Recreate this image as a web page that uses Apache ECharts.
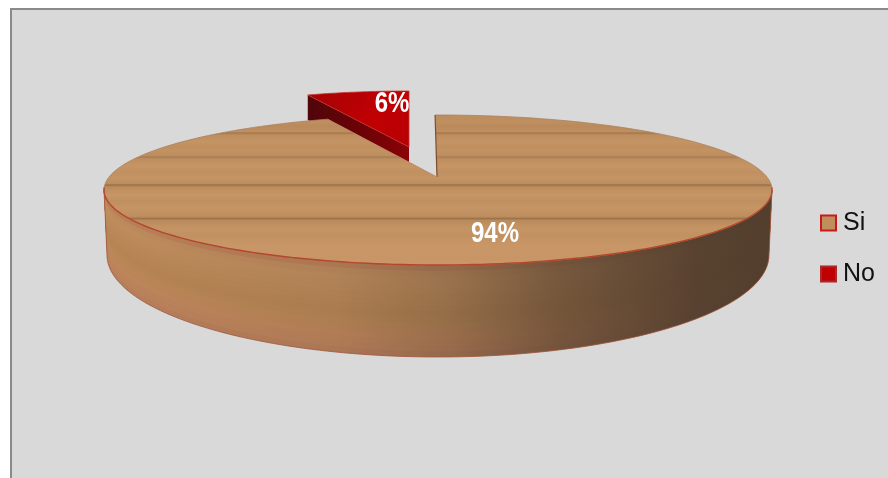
<!DOCTYPE html>
<html><head><meta charset="utf-8">
<style>html,body{margin:0;padding:0;background:#fff}#c{width:888px;height:478px}</style>
<script src="https://cdn.jsdelivr.net/npm/echarts@6/dist/echarts.min.js"></script>
</head><body><div id="c"></div>
<script>
const categories = ['Si', 'No'];
const values = [94, 6];
const valueLabels = ['94%', '6%'];

const total = values.reduce((a, b) => a + b, 0);
const FONT = '"Liberation Sans", Arial, sans-serif';
const TOP = { cx: 438, cy: 190, rx: 334, ry: 75, ax: 437, ay: 177 };
const BASE = { cx: 438, cy: 255, rx: 331, ry: 102 };
const WEDGE = { cx: 409, cy: 148, rx: 275, ry: 57, ax: 409, ay: 147, depth: 25 };
const START = -0.5, FORESHORTEN = 0.87;
const rad = d => d * Math.PI / 180;
const ell = (e, t) => [e.cx + e.rx * Math.sin(rad(t)), e.cy - e.ry * Math.cos(rad(t))];
const arc = (e, a, b, n) => { const p = []; for (let i = 0; i <= n; i++) p.push(ell(e, a + (b - a) * i / n)); return p; };
const mix = (f) => ({ cx: TOP.cx + (BASE.cx - TOP.cx) * f, cy: TOP.cy + (BASE.cy - TOP.cy) * f, rx: TOP.rx + (BASE.rx - TOP.rx) * f, ry: TOP.ry + (BASE.ry - TOP.ry) * f });

const grain = (stops) => ({ type: 'linear', global: true, x: 0, y: 115, x2: 0, y2: 265, colorStops: stops.map(s => ({ offset: (s[0] - 115) / 150, color: s[1] })) });
const topGrain = grain([
  [115,'#bd8d5c'],[122,'#bf8f60'],[126,'#ba8a5c'],[131.5,'#c08f60'],[133,'#a4794e'],[135,'#bf8e5f'],[142,'#c49464'],[147,'#be8e5f'],[150,'#c29262'],
  [155.5,'#bf8e5f'],[157,'#a67c54'],[159,'#bf8e5f'],[166,'#c69565'],[172,'#c19061'],[178,'#c59464'],
  [183.5,'#be8d5d'],[185,'#96704a'],[187,'#bd8c5d'],[195,'#c69667'],[201,'#c08f60'],[208,'#c69565'],[215,'#bf8f60'],
  [217,'#bb8a5c'],[218.5,'#9c744b'],[220.5,'#bc8b5c'],[228,'#c59465'],[236,'#c29162'],[246,'#c99767'],[256,'#c89566'],[265,'#cb9669']]);
const sideBands = ['#b97f58','#bd8a5c','#bf8d5d','#be8c5c','#bd8b5a','#bb8958','#ba8857','#b88655','#b78554','#b88655','#bb8757','#bd8659','#bf865b','#bd845b','#bc835c','#b87f5a'];

function valueText(text, x, y) {
  return { type: 'text', x: x, y: y, scaleX: 0.8, style: { text: text, fill: '#fff', font: 'bold 30px ' + FONT, align: 'center', verticalAlign: 'middle' } };
}

function siRender(params, api) {
  const share = api.value(0) / total;
  const sweep = 360 - (1 - share) * 360 * FORESHORTEN;
  const kids = [];
  // curved grain of the rim, deepest band first
  for (let i = sideBands.length - 1; i >= 0; i--) {
    const f = (i + 1) / sideBands.length;
    const low = arc(mix(f), 90, 270, 90);
    const up = arc(mix(0), 270, 90, 90);
    kids.push({ type: 'polygon', shape: { points: low.concat(up) }, style: { fill: sideBands[i], stroke: null } });
  }
  // shading of the rim, and its outline
  const outline = arc(BASE, 90, 270, 120).concat(arc(TOP, 270, 90, 120));
  kids.push({ type: 'polygon', shape: { points: outline }, style: {
    fill: { type: 'linear', global: true, x: 104, y: 0, x2: 772, y2: 0, colorStops: [
      { offset: 0, color: 'rgba(74,56,42,0)' }, { offset: 0.35, color: 'rgba(74,56,42,0.12)' }, { offset: 0.52, color: 'rgba(74,56,42,0.32)' },
      { offset: 0.68, color: 'rgba(74,56,42,0.62)' }, { offset: 0.89, color: 'rgba(74,56,42,0.88)' }, { offset: 1, color: 'rgba(74,56,42,0.92)' }] },
    stroke: '#a0573f', lineWidth: 0.8 } });
  // top face: starts near 12 o'clock and sweeps clockwise; the notch is the other slice
  const rim = arc(TOP, START, START + sweep, 240);
  const apex = [TOP.ax, TOP.ay];
  kids.push({ type: 'polygon', shape: { points: [apex].concat(rim) }, style: { fill: topGrain, stroke: null } });
  kids.push({ type: 'polyline', shape: { points: rim }, style: { stroke: '#a9825f', lineWidth: 0.8, fill: null } });
  kids.push({ type: 'polyline', shape: { points: arc(TOP, 88, 272, 120) }, style: { stroke: '#b5482c', lineWidth: 1.4, fill: null } });
  kids.push({ type: 'polyline', shape: { points: [rim[0], apex] }, style: { stroke: '#7c4e2e', lineWidth: 1.2, fill: null } });
  kids.push({ type: 'polyline', shape: { points: [apex, rim[rim.length - 1]] }, style: { stroke: '#c28a66', lineWidth: 1, fill: null } });
  kids.push(valueText(valueLabels[0], 495, 234));
  return { type: 'group', children: kids };
}

function noRender(params, api) {
  const sweep = api.value(0) / total * 360;
  const a = -sweep, kids = [];
  const rim = arc(WEDGE, a, 0, 30);
  const apex = [WEDGE.ax, WEDGE.ay];
  const left = rim[0];
  // the cut wall of the wedge, facing the viewer
  kids.push({ type: 'polygon', shape: { points: [left, apex, [apex[0], apex[1] + WEDGE.depth], [left[0], left[1] + WEDGE.depth]] },
    style: { fill: { type: 'linear', global: true, x: 308, y: 0, x2: 409, y2: 0, colorStops: [{ offset: 0, color: '#50060a' }, { offset: 0.5, color: '#6a0206' }, { offset: 1, color: '#8a0308' }] }, stroke: null } });
  kids.push({ type: 'polygon', shape: { points: [apex].concat(rim) },
    style: { fill: { type: 'linear', global: true, x: 320, y: 92, x2: 409, y2: 147, colorStops: [{ offset: 0, color: '#a80206' }, { offset: 0.55, color: '#c00003' }, { offset: 1, color: '#b80005' }] }, stroke: '#c2342f', lineWidth: 0.8 } });
  kids.push(valueText(valueLabels[1], 392, 104));
  return { type: 'group', children: kids };
}

const chart = echarts.init(document.getElementById('c'), null, { renderer: 'canvas', width: 888, height: 478 });
chart.setOption({
  animation: false,
  backgroundColor: '#fff',
  graphic: [{ type: 'rect', z: -10, silent: true, shape: { x: 11, y: 9, width: 890, height: 490 }, style: { fill: '#d9d9d9', stroke: '#8a8a8a', lineWidth: 2 } }],
  legend: {
    orient: 'vertical', left: 820, top: 209, padding: 0, itemWidth: 15, itemHeight: 15, itemGap: 23, icon: 'rect',
    textStyle: { fontFamily: 'Liberation Sans', fontSize: 25, color: '#111', lineHeight: 26, padding: [2, 0, 0, 2] },
    data: [
      { name: categories[0], itemStyle: { color: '#c08e5c', borderColor: '#c81a1c', borderWidth: 2 } },
      { name: categories[1], itemStyle: { color: '#c00003', borderColor: '#a8282c', borderWidth: 2 } }
    ]
  },
  series: [
    { type: 'custom', name: categories[1], coordinateSystem: 'none', data: [values[1]], renderItem: noRender, z: 2, itemStyle: { color: '#c00003' } },
    { type: 'custom', name: categories[0], coordinateSystem: 'none', data: [values[0]], renderItem: siRender, z: 3, itemStyle: { color: '#c08e5c' } }
  ]
});
</script></body></html>
